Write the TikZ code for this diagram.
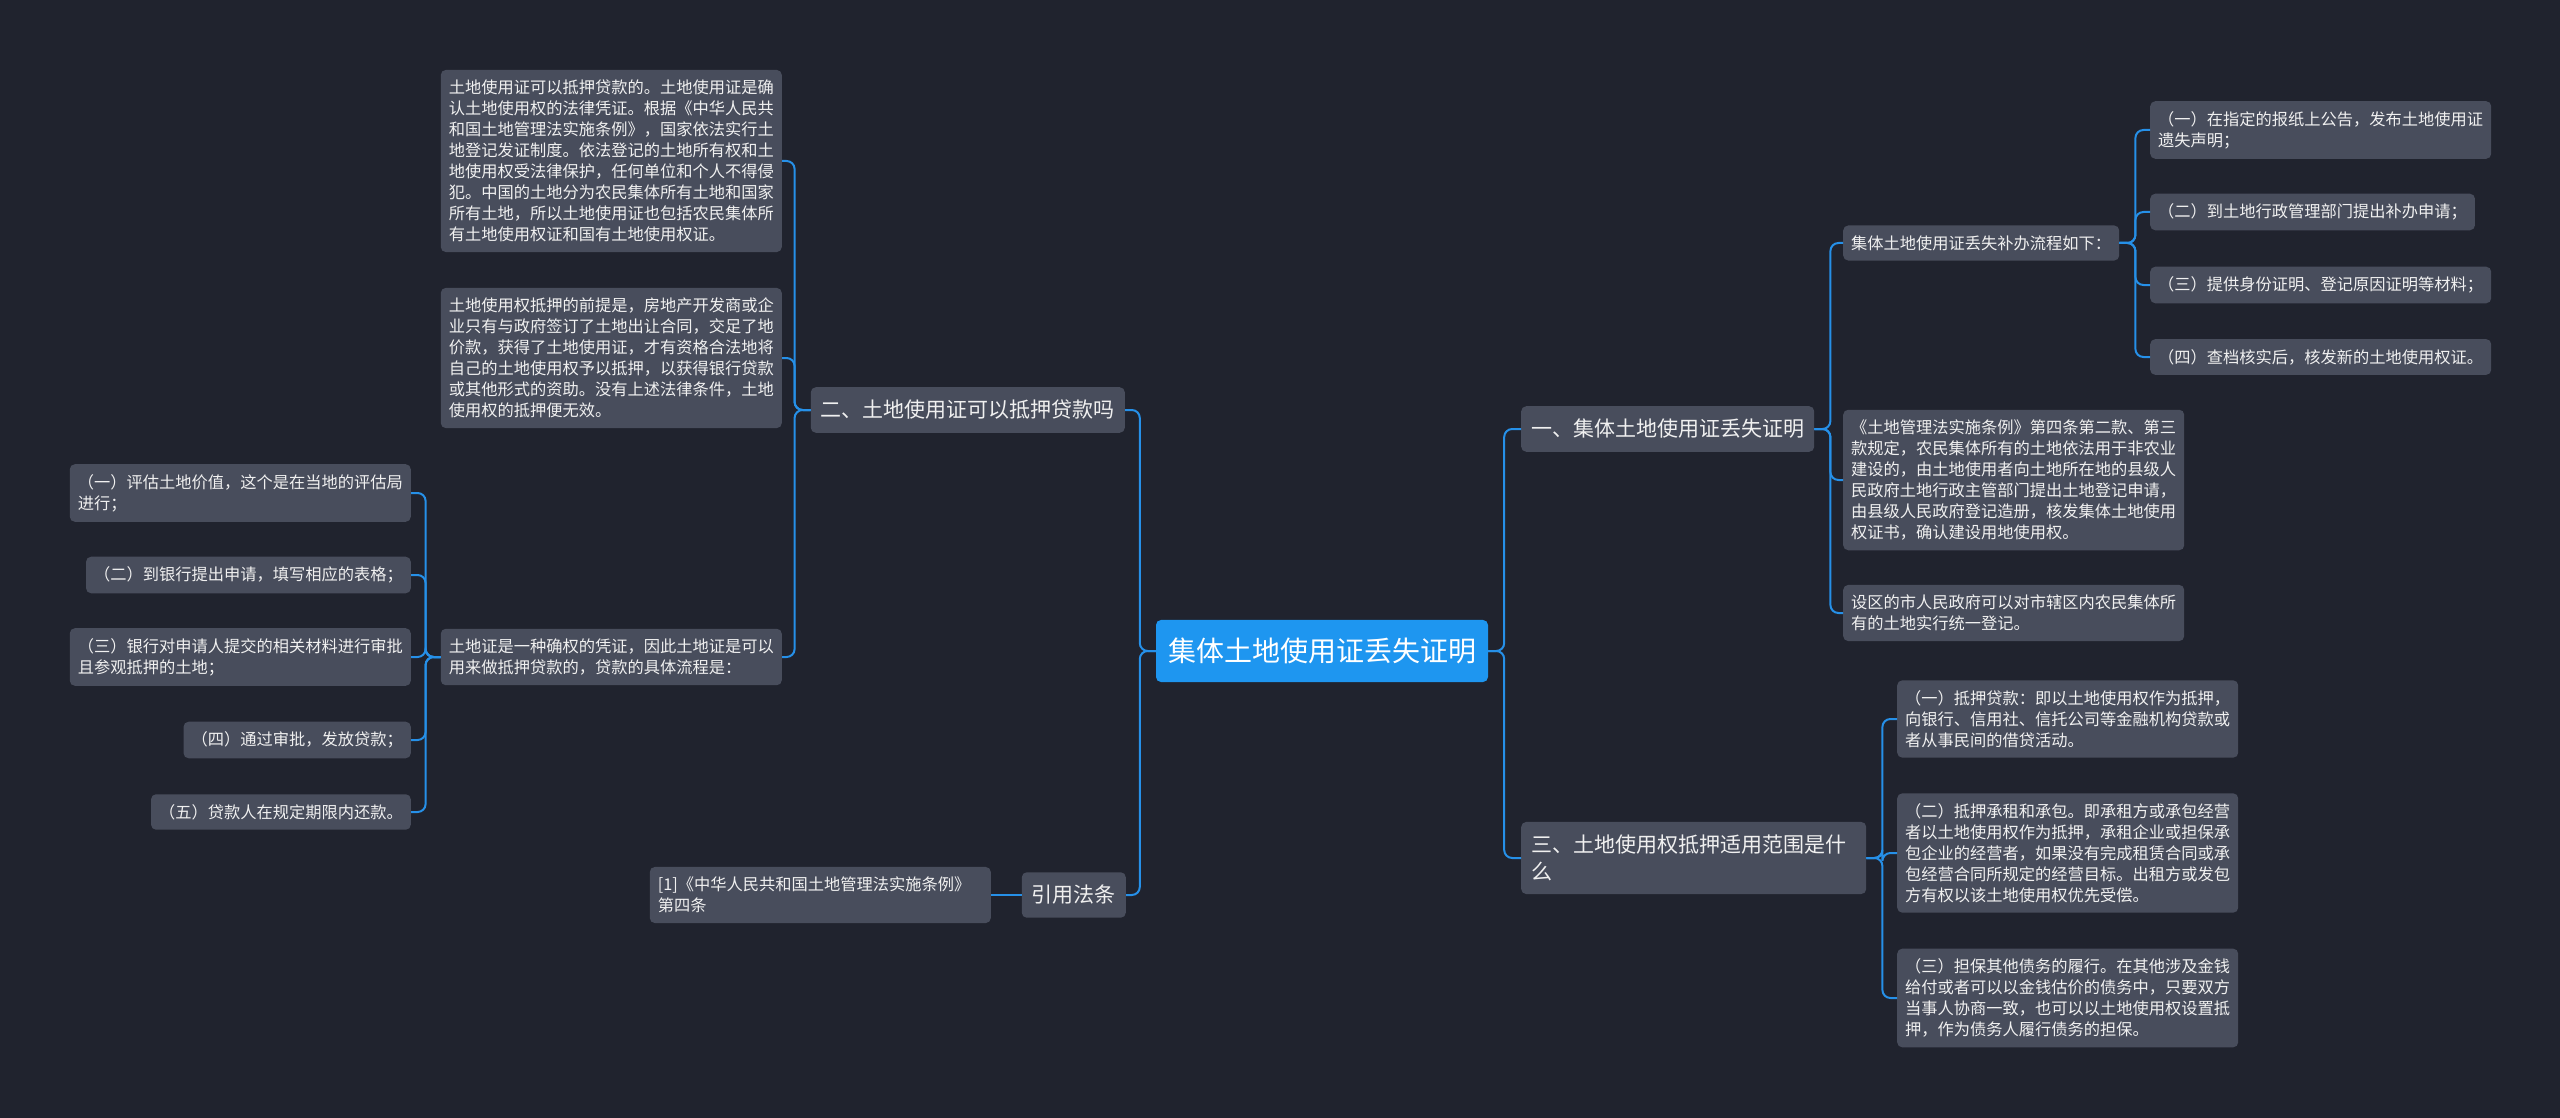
\documentclass[tikz,border=0pt]{standalone}
\usepackage{fontspec}
\setmainfont{Noto Sans CJK SC}
\usepackage{tikz}
\usetikzlibrary{positioning}
\definecolor{BgDark}{RGB}{32, 35, 46}
\definecolor{BoxGray}{RGB}{72, 77, 92}
\definecolor{LinkBlue}{RGB}{38, 144, 232}
\definecolor{RootBlue}{RGB}{30, 150, 240}
\definecolor{TextWhite}{RGB}{240, 240, 240}

\begin{document}
\begin{tikzpicture}[
    x=1pt, y=-1pt,
    root/.style={rectangle, rounded corners=5pt, fill=RootBlue, text=white, font=\fontsize{28}{34}\selectfont, inner xsep=12pt, inner ysep=18pt},
    topic/.style={rectangle, rounded corners=5pt, fill=BoxGray, text=TextWhite, font=\fontsize{21}{27}\selectfont, align=left, inner xsep=10pt, inner ysep=13pt},
    leaf/.style={rectangle, rounded corners=5pt, fill=BoxGray, text=TextWhite, font=\fontsize{16.25}{21}\selectfont, align=left, inner xsep=8pt, inner ysep=10pt},
    link/.style={draw=LinkBlue, line width=2pt, rounded corners=8pt}
  ]
    \fill[BgDark] (0,0) rectangle (2560,1118);
    \useasboundingbox (0,0) rectangle (2560,1118);

    % Root
    \node[root] (root) at (1322,651) {集体土地使用证丢失证明};

    % Left topics
    \node[topic, anchor=east] (loan) at (1125,410) {二、土地使用证可以抵押贷款吗};
    \node[topic, anchor=east] (cite) at (1126,895) {引用法条};

    \node[leaf, anchor=east] (loanA) at (782,161) {土地使用证可以抵押贷款的。土地使用证是确\\认土地使用权的法律凭证。根据《中华人民共\\和国土地管理法实施条例》，国家依法实行土\\地登记发证制度。依法登记的土地所有权和土\\地使用权受法律保护，任何单位和个人不得侵\\犯。中国的土地分为农民集体所有土地和国家\\所有土地，所以土地使用证也包括农民集体所\\有土地使用权证和国有土地使用权证。};
    \node[leaf, anchor=east] (loanB) at (782,358) {土地使用权抵押的前提是，房地产开发商或企\\业只有与政府签订了土地出让合同，交足了地\\价款，获得了土地使用证，才有资格合法地将\\自己的土地使用权予以抵押，以获得银行贷款\\或其他形式的资助。没有上述法律条件，土地\\使用权的抵押便无效。};
    \node[leaf, anchor=east] (loanC) at (782,657) {土地证是一种确权的凭证，因此土地证是可以\\用来做抵押贷款的，贷款的具体流程是：};

    % Loan steps
    \node[leaf, anchor=east] (stepA) at (411,493) {（一）评估土地价值，这个是在当地的评估局\\进行；};
    \node[leaf, anchor=east] (stepB) at (411,575) {（二）到银行提出申请，填写相应的表格；};
    \node[leaf, anchor=east] (stepC) at (411,657) {（三）银行对申请人提交的相关材料进行审批\\且参观抵押的土地；};
    \node[leaf, anchor=east] (stepD) at (411,740) {（四）通过审批，发放贷款；};
    \node[leaf, anchor=east] (stepE) at (411,812) {（五）贷款人在规定期限内还款。};

    \node[leaf, anchor=east, text width=325pt] (law) at (991,895) {[1]《中华人民共和国土地管理法实施条例》\\第四条};

    % Right topics
    \node[topic, anchor=west] (lost) at (1521,429) {一、集体土地使用证丢失证明};
    \node[topic, anchor=west, text width=325pt] (scope) at (1521,858) {三、土地使用权抵押适用范围是什\\么};

    \node[leaf, anchor=west] (redo) at (1843,243) {集体土地使用证丢失补办流程如下：};
    \node[leaf, anchor=west] (rule) at (1843,480) {《土地管理法实施条例》第四条第二款、第三\\款规定，农民集体所有的土地依法用于非农业\\建设的，由土地使用者向土地所在地的县级人\\民政府土地行政主管部门提出土地登记申请，\\由县级人民政府登记造册，核发集体土地使用\\权证书，确认建设用地使用权。};
    \node[leaf, anchor=west] (city) at (1843,613) {设区的市人民政府可以对市辖区内农民集体所\\有的土地实行统一登记。};

    \node[leaf, anchor=west] (redoA) at (2150,130) {（一）在指定的报纸上公告，发布土地使用证\\遗失声明；};
    \node[leaf, anchor=west] (redoB) at (2150,212) {（二）到土地行政管理部门提出补办申请；};
    \node[leaf, anchor=west] (redoC) at (2150,285) {（三）提供身份证明、登记原因证明等材料；};
    \node[leaf, anchor=west] (redoD) at (2150,357) {（四）查档核实后，核发新的土地使用权证。};

    \node[leaf, anchor=west] (useA) at (1897,719) {（一）抵押贷款：即以土地使用权作为抵押，\\向银行、信用社、信托公司等金融机构贷款或\\者从事民间的借贷活动。};
    \node[leaf, anchor=west] (useB) at (1897,853) {（二）抵押承租和承包。即承租方或承包经营\\者以土地使用权作为抵押，承租企业或担保承\\包企业的经营者，如果没有完成租赁合同或承\\包经营合同所规定的经营目标。出租方或发包\\方有权以该土地使用权优先受偿。};
    \node[leaf, anchor=west] (useC) at (1897,998) {（三）担保其他债务的履行。在其他涉及金钱\\给付或者可以以金钱估价的债务中，只要双方\\当事人协商一致，也可以以土地使用权设置抵\\押，作为债务人履行债务的担保。};

    % Links
    \foreach \c in {loan, cite}
      \draw[link] (root.west) -- ++(-16,0) |- (\c.east);
    \foreach \c in {lost, scope}
      \draw[link] (root.east) -- ++(16,0) |- (\c.west);
    \foreach \c in {loanA, loanB, loanC}
      \draw[link] (loan.west) -- ++(-16,0) |- (\c.east);
    \foreach \c in {stepA, stepB, stepC, stepD, stepE}
      \draw[link] (loanC.west) -- ++(-15,0) |- (\c.east);
    \draw[link] (cite.west) -- (law.east);
    \foreach \c in {redo, rule, city}
      \draw[link] (lost.east) -- ++(16,0) |- (\c.west);
    \foreach \c in {redoA, redoB, redoC, redoD}
      \draw[link] (redo.east) -- ++(16,0) |- (\c.west);
    \foreach \c in {useA, useB, useC}
      \draw[link] (scope.east) -- ++(16,0) |- (\c.west);
  \end{tikzpicture}
\end{document}
